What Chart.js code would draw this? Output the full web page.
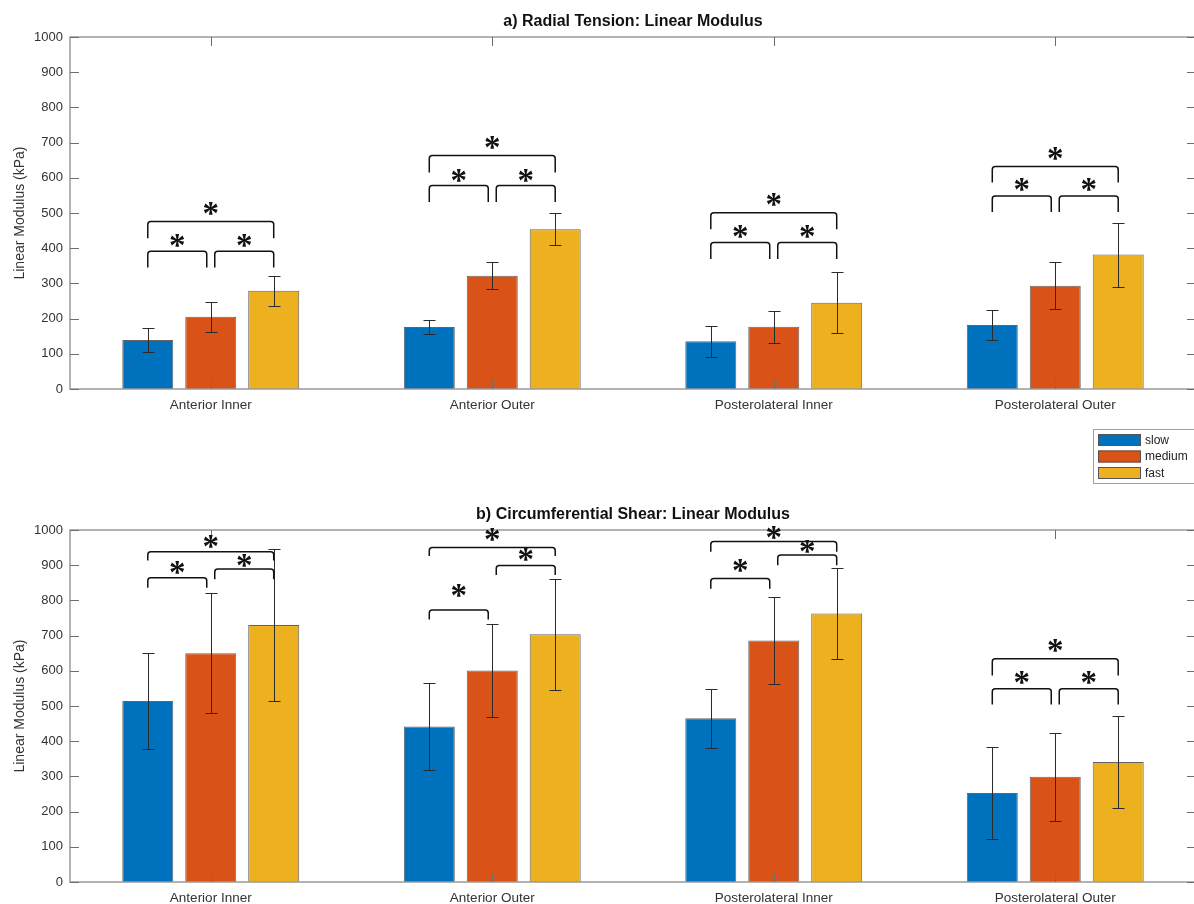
<!DOCTYPE html>
<html>
<head>
<meta charset="utf-8">
<title>Linear Modulus</title>
<script src="https://cdn.jsdelivr.net/npm/chart.js@4.4.1/dist/chart.umd.min.js"></script>
<style>
  html, body { margin: 0; padding: 0; background: #fff; overflow: hidden; }
  #page { position: relative; width: 1194px; height: 904px; overflow: hidden; }
  canvas { position: absolute; left: 0; }
  #radialChart { top: 0; }
  #shearChart { top: 490px; }
</style>
</head>
<body>
<div id="page">
  <canvas id="radialChart" width="1200" height="490"></canvas>
  <canvas id="shearChart" width="1200" height="414"></canvas>
</div>
<script>
// ---- data ----
const categories = ['Anterior Inner', 'Anterior Outer', 'Posterolateral Inner', 'Posterolateral Outer'];
const seriesNames = ['slow', 'medium', 'fast'];
const seriesColors = ['#0072BD', '#D95319', '#EDB120'];
const yMin = 0, yMax = 1000, yStep = 100;

// a) Radial tension (kPa), mean and error
const radialSlow = [139, 176, 136, 182];
const radialSlowErr = [35, 20, 44, 43];
const radialMedium = [205, 322, 177, 293];
const radialMediumErr = [43, 39, 45, 67];
const radialFast = [279, 454, 245, 382];
const radialFastErr = [43, 45, 87, 91];

// b) Circumferential shear (kPa), mean and error
const shearSlow = [514, 442, 465, 253];
const shearSlowErr = [136, 124, 83, 130];
const shearMedium = [650, 601, 686, 299];
const shearMediumErr = [170, 133, 124, 125];
const shearFast = [730, 704, 763, 341];
const shearFastErr = [215, 158, 130, 130];

// significance brackets: [category, fromSeries, toSeries, lineY, legEndY, starY] (kPa)
const radialBrackets = [
  [0, 0, 2, 476, 428, 512], [0, 0, 1, 391, 345, 422], [0, 1, 2, 391, 345, 422],
  [1, 0, 2, 663, 615, 699], [1, 0, 1, 578, 531, 606], [1, 1, 2, 578, 531, 606],
  [2, 0, 2, 501, 454, 538], [2, 0, 1, 416, 369, 448], [2, 1, 2, 416, 369, 448],
  [3, 0, 2, 632, 587, 670], [3, 0, 1, 548, 503, 580], [3, 1, 2, 548, 503, 580]
];
const shearBrackets = [
  [0, 0, 2, 938, 913, 967], [0, 0, 1, 864, 836, 894], [0, 1, 2, 889, 860, 913],
  [1, 0, 2, 950, 926, 986], [1, 0, 1, 773, 746, 828], [1, 1, 2, 899, 872, 931],
  [2, 0, 2, 967, 938, 993], [2, 0, 1, 862, 833, 899], [2, 1, 2, 929, 900, 953],
  [3, 0, 2, 634, 587, 673], [3, 0, 1, 549, 504, 581], [3, 1, 2, 549, 504, 581]
];

// ---- drawing ----
Chart.defaults.font.family = '"Liberation Sans", Arial, Helvetica, sans-serif';
Chart.defaults.color = '#333';

const AXIS_COLOR = '#9a9a9a';
const TICK_LEN = 9;

// error bars, axis box, inward ticks, brackets, title, legend
const decorPlugin = {
    id: 'decor',
    afterDatasetsDraw(chart, args, opts) {
        const { ctx, chartArea: a, scales: { x, y } } = chart;
        ctx.save();

        // error bars
        ctx.strokeStyle = '#2b2b2b';
        ctx.lineWidth = 1;
        chart.data.datasets.forEach((ds, i) => {
            chart.getDatasetMeta(i).data.forEach((bar, j) => {
                const v = ds.data[j], e = ds.errors[j];
                const cx = Math.round(bar.x) + 0.5;
                const yHi = Math.round(y.getPixelForValue(v + e)) + 0.5;
                const yLo = Math.round(y.getPixelForValue(v - e)) + 0.5;
                ctx.beginPath();
                ctx.moveTo(cx, yHi); ctx.lineTo(cx, yLo);
                ctx.moveTo(cx - 6, yHi); ctx.lineTo(cx + 6, yHi);
                ctx.moveTo(cx - 6, yLo); ctx.lineTo(cx + 6, yLo);
                ctx.stroke();
            });
        });

        // axis box
        ctx.strokeStyle = AXIS_COLOR;
        ctx.lineWidth = 1.5;
        ctx.strokeRect(a.left, a.top, a.right - a.left, a.bottom - a.top);

        // inward ticks
        ctx.strokeStyle = '#6e6e6e';
        ctx.lineWidth = 1;
        ctx.beginPath();
        for (let v = yMin; v <= yMax; v += yStep) {
            const py = Math.round(y.getPixelForValue(v)) + 0.5;
            ctx.moveTo(a.left, py); ctx.lineTo(a.left + TICK_LEN, py);
            ctx.moveTo(a.right, py); ctx.lineTo(a.right - TICK_LEN, py);
        }
        categories.forEach((c, i) => {
            const px = Math.round(x.getPixelForValue(i)) + 0.5;
            ctx.moveTo(px, a.bottom); ctx.lineTo(px, a.bottom - TICK_LEN);
            ctx.moveTo(px, a.top); ctx.lineTo(px, a.top + TICK_LEN);
        });
        ctx.stroke();

        // significance brackets
        ctx.strokeStyle = '#111';
        ctx.fillStyle = '#111';
        ctx.lineWidth = 1.5;
        ctx.font = 'bold 33px "Liberation Serif", "Times New Roman", serif';
        ctx.textAlign = 'center';
        const m = ctx.measureText('*');
        const starShift = (m.actualBoundingBoxAscent - m.actualBoundingBoxDescent) / 2;
        (opts.brackets || []).forEach(([cat, s0, s1, lineY, legY, starY]) => {
            let x0 = chart.getDatasetMeta(s0).data[cat].x;
            let x1 = chart.getDatasetMeta(s1).data[cat].x;
            if (s0 === 1) x0 += 4;
            if (s1 === 1) x1 -= 4;
            const yl = y.getPixelForValue(lineY);
            const yb = y.getPixelForValue(legY);
            ctx.beginPath();
            ctx.moveTo(x0, yb);
            ctx.lineTo(x0, yl + 3);
            ctx.quadraticCurveTo(x0, yl, x0 + 3, yl);
            ctx.lineTo(x1 - 3, yl);
            ctx.quadraticCurveTo(x1, yl, x1, yl + 3);
            ctx.lineTo(x1, yb);
            ctx.stroke();
            ctx.fillText('*', (x0 + x1) / 2, y.getPixelForValue(starY) + starShift);
        });
        ctx.restore();
    },
    afterDraw(chart, args, opts) {
        const { ctx, chartArea: a } = chart;
        ctx.save();
        // title centred over the plot area
        ctx.fillStyle = '#111';
        ctx.font = 'bold 16px "Liberation Sans", Arial, sans-serif';
        ctx.textAlign = 'center';
        ctx.textBaseline = 'middle';
        ctx.fillText(opts.title, (a.left + a.right) / 2, opts.titleY);

        // legend
        if (opts.legend) {
            const lx = 1093, ly = 429, lw = 104, lh = 54;
            ctx.fillStyle = '#fff';
            ctx.fillRect(lx, ly, lw, lh);
            ctx.strokeStyle = '#a0a0a0';
            ctx.lineWidth = 1;
            ctx.strokeRect(lx + 0.5, ly + 0.5, lw, lh);
            ctx.font = '12px "Liberation Sans", Arial, sans-serif';
            ctx.textAlign = 'left';
            ctx.textBaseline = 'middle';
            chart.data.datasets.forEach((ds, i) => {
                const sy = ly + 5 + i * 16.5;
                ctx.fillStyle = ds.backgroundColor;
                ctx.fillRect(lx + 5, sy, 43, 12);
                ctx.strokeStyle = '#555';
                ctx.strokeRect(lx + 5.5, sy + 0.5, 42, 11);
                ctx.fillStyle = '#222';
                ctx.fillText(ds.label, lx + 52, sy + 6.5);
            });
        }
        ctx.restore();
    }
};

function buildChart(canvasId, series, errors, brackets, title, titleY, layout) {
    const datasets = series.map((vals, i) => ({
        label: seriesNames[i],
        data: vals,
        errors: errors[i],
        backgroundColor: seriesColors[i],
        borderColor: 'rgba(60,60,60,0.8)',
        borderWidth: 1,
        categoryPercentage: 0.671,
        barPercentage: 0.81
    }));

    return new Chart(document.getElementById(canvasId), {
        type: 'bar',
        data: { labels: categories, datasets },
        options: {
            responsive: false,
            animation: false,
            layout: { padding: { top: layout.top, right: 4, left: 0, bottom: 0 } },
            plugins: {
                legend: { display: false },
                tooltip: { enabled: false },
                decor: { brackets, title, titleY, legend: layout.legend }
            },
            scales: {
                x: {
                    grid: { display: false, drawTicks: false },
                    border: { display: false },
                    ticks: { padding: 8, color: '#333', font: { size: 13.5 } },
                    afterFit: (scale) => { scale.height = layout.xHeight; }
                },
                y: {
                    min: yMin,
                    max: yMax,
                    grid: { display: false, drawTicks: false },
                    border: { display: false },
                    ticks: { stepSize: yStep, padding: 7, color: '#333', font: { size: 13 },
                             format: { useGrouping: false } },
                    title: {
                        display: true,
                        text: 'Linear Modulus (kPa)',
                        color: '#333',
                        font: { size: 14 },
                        padding: { top: 12, bottom: 0 }
                    },
                    afterFit: (scale) => { scale.width = 70; }
                }
            }
        },
        plugins: [decorPlugin]
    });
}

buildChart('radialChart',
    [radialSlow, radialMedium, radialFast],
    [radialSlowErr, radialMediumErr, radialFastErr],
    radialBrackets,
    'a) Radial Tension: Linear Modulus', 22,
    { top: 37, xHeight: 101, legend: true });

buildChart('shearChart',
    [shearSlow, shearMedium, shearFast],
    [shearSlowErr, shearMediumErr, shearFastErr],
    shearBrackets,
    'b) Circumferential Shear: Linear Modulus', 25,
    { top: 40, xHeight: 22, legend: false });
</script>
</body>
</html>
